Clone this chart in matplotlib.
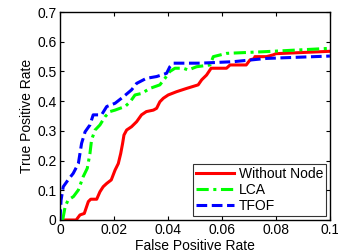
import matplotlib
matplotlib.use("Agg")
import matplotlib.pyplot as plt

plt.rcParams['font.family'] = ['Liberation Sans', 'DejaVu Sans']

# Without Node
red_x = [0.002, 0.006, 0.0074, 0.009, 0.0105, 0.0114, 0.0136, 0.0148, 0.016, 0.0173,
         0.019, 0.0204, 0.0216, 0.0225, 0.0232, 0.0237, 0.0247, 0.0265, 0.0284, 0.0302,
         0.032, 0.0346, 0.0358, 0.037, 0.0383, 0.0401, 0.0432, 0.0469, 0.0512, 0.0525,
         0.0543, 0.056, 0.059, 0.0617, 0.063, 0.0667, 0.069, 0.0704, 0.0722, 0.0722,
         0.0765, 0.079, 0.08, 0.1]
red_y = [0.0, 0.0, 0.017, 0.022, 0.062, 0.07, 0.07, 0.095, 0.112, 0.123,
         0.135, 0.168, 0.19, 0.224, 0.258, 0.286, 0.303, 0.314, 0.331, 0.354,
         0.365, 0.37, 0.376, 0.398, 0.41, 0.421, 0.432, 0.443, 0.455, 0.472,
         0.488, 0.511, 0.511, 0.511, 0.522, 0.522, 0.522, 0.539, 0.544, 0.55,
         0.55, 0.556, 0.56, 0.568]

# LCA
green_x = [0.001, 0.0019, 0.003, 0.005, 0.0068, 0.0086, 0.0101, 0.0111, 0.0117, 0.013,
           0.0148, 0.0167, 0.0185, 0.0204, 0.0222, 0.0241, 0.026, 0.0278, 0.0302, 0.0333,
           0.037, 0.0389, 0.0407, 0.0426, 0.0457, 0.0475, 0.0506, 0.0556, 0.0568, 0.0617,
           0.0765, 0.1]
green_y = [0.0, 0.045, 0.067, 0.079, 0.101, 0.146, 0.174, 0.224, 0.27, 0.303,
           0.32, 0.348, 0.365, 0.37, 0.376, 0.382, 0.398, 0.421, 0.426, 0.443,
           0.455, 0.477, 0.5, 0.511, 0.511, 0.505, 0.516, 0.522, 0.55, 0.561,
           0.567, 0.578]

# TFOF
blue_x = [0.0, 0.0004, 0.0012, 0.003, 0.0049, 0.0068, 0.008, 0.0093, 0.0111, 0.0123,
          0.0154, 0.0173, 0.0204, 0.0235, 0.0265, 0.0284, 0.032, 0.0358, 0.0395, 0.0407,
          0.042, 0.0519, 0.0642, 0.0765, 0.1]
blue_y = [0.0, 0.067, 0.112, 0.135, 0.157, 0.19, 0.258, 0.297, 0.32, 0.354,
          0.354, 0.382, 0.393, 0.415, 0.438, 0.46, 0.477, 0.483, 0.494, 0.516,
          0.528, 0.528, 0.533, 0.544, 0.552]

fig = plt.figure(figsize=(3.38, 2.52), dpi=100)
ax = fig.add_axes([0.1775, 0.127, 0.7985, 0.825])

ax.plot(red_x, red_y, color='red', linewidth=2.2, label='Without Node')
ax.plot(green_x, green_y, color='#00ff00', linewidth=2.2, linestyle=(0, (4, 1.5, 1, 1.5)), label='LCA')
ax.plot(blue_x, blue_y, color='blue', linewidth=2.2, linestyle=(0, (3.5, 1.5)), label='TFOF')

ax.set_xlim(0, 0.1)
ax.set_ylim(0, 0.7)
ax.set_xticks([0, 0.02, 0.04, 0.06, 0.08, 0.1])
ax.set_xticklabels(['0', '0.02', '0.04', '0.06', '0.08', '0.1'])
ax.set_yticks([0, 0.1, 0.2, 0.3, 0.4, 0.5, 0.6, 0.7])
ax.set_yticklabels(['0', '0.1', '0.2', '0.3', '0.4', '0.5', '0.6', '0.7'])
ax.tick_params(direction='in', top=True, right=True, labelsize=10, length=3)
ax.tick_params(axis='x', pad=2.5)
ax.tick_params(axis='y', pad=2.5)
for s in ax.spines.values():
    s.set_linewidth(1.0)
ax.set_xlabel('False Positive Rate', fontsize=10, labelpad=1)
ax.set_ylabel('True Positive Rate', fontsize=10, labelpad=2)

leg = ax.legend(loc='lower right', fontsize=10, fancybox=False, edgecolor='black',
                handlelength=2.8, borderpad=0.2, labelspacing=0.15, handletextpad=0.3,
                borderaxespad=0.3)
leg.get_frame().set_linewidth(0.8)

fig.savefig('out.png', dpi=100)
